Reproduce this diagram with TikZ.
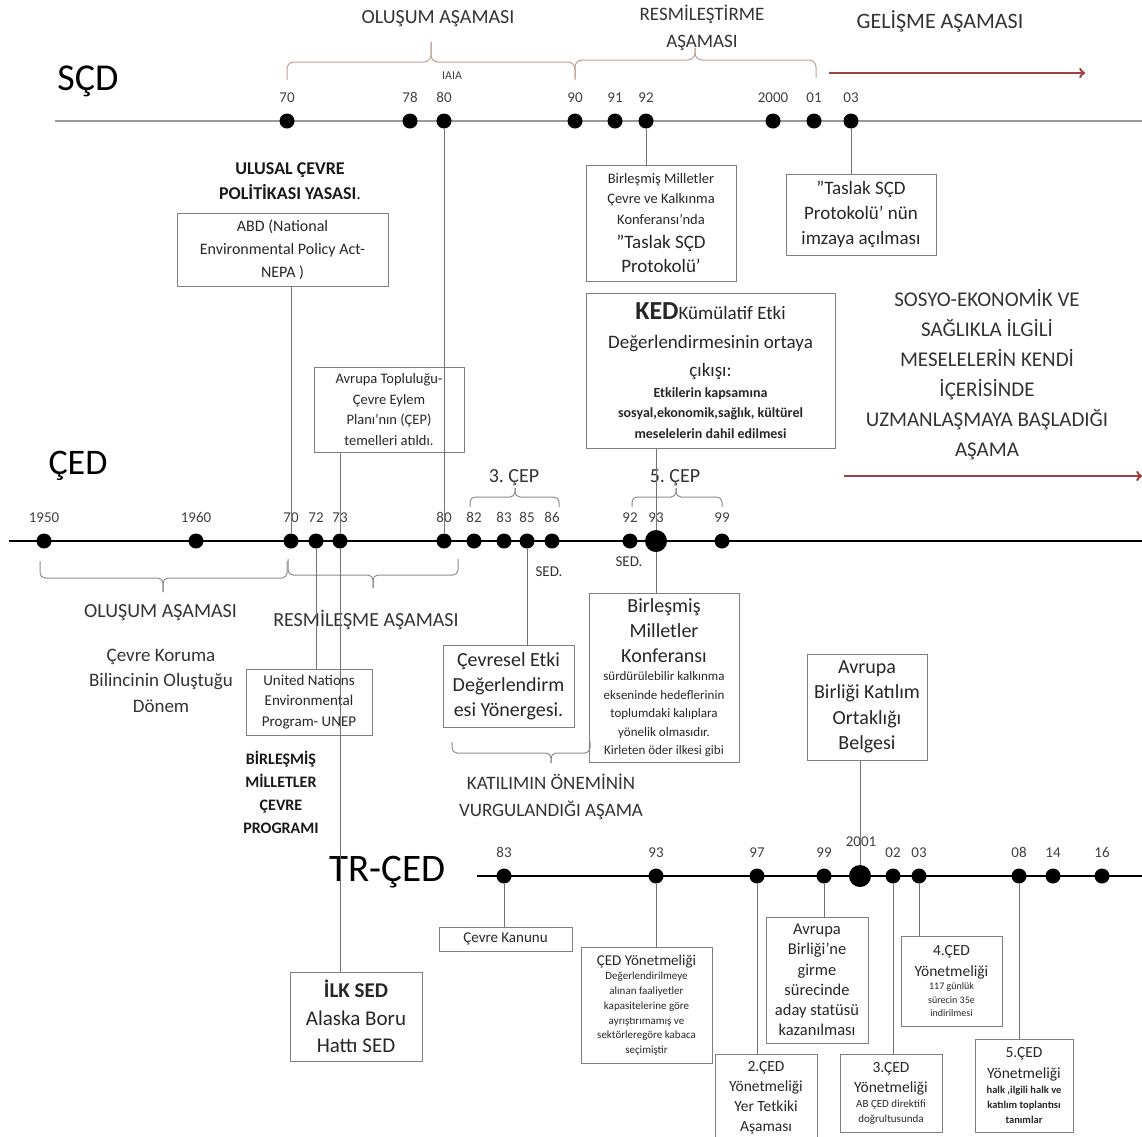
\documentclass[tikz,border=0pt]{standalone}
\usepackage{fontspec}
\setmainfont{Carlito}
\frenchspacing

\definecolor{arrowred}{RGB}{155,65,65}
\definecolor{bracetan}{RGB}{190,160,150}
\newcommand{\fs}[2]{\fontsize{#1}{#2}\selectfont}

\begin{document}
\begin{tikzpicture}[x=1pt,y=-1pt,label distance=7pt,
  dot/.style={circle,fill=black,inner sep=0pt,minimum size=15pt},
  bigdot/.style={circle,fill=black,inner sep=0pt,minimum size=22pt},
  yr/.style={font=\fs{15}{18},text=black!75},
  box/.style={draw=black!50,line width=1pt,align=flush center,inner sep=0pt,text=black!85},
  conn/.style={draw=black!55,line width=0.9pt},
  phase/.style={align=center,text=black!80},
  upbrace/.style={draw=bracetan,line width=1pt,rounded corners=7pt},
  gbrace/.style={draw=black!45,line width=1pt,rounded corners=5pt},
  timeline/.style={line width=2.8pt}]
  \useasboundingbox (0,0) rectangle (1142,1136);

  % SCD line
  \node[font=\fs{38}{40}] (scd) at (88,81) {SÇD};
  \draw[black!40,line width=1.5pt] (55,121) -- (1142,121);
  \foreach \x/\t in {287/70,410/78,444/80,575/90,615/91,646/92,773/2000,814/01,851/03}
    \node[dot,label={[yr]above:\t}] (s\t) at (\x,121) {};
  \node[font=\fs{12}{14},text=black!75] (iaia) at (452,76) {IAIA};

  \node[phase,font=\fs{20}{24}] (olusum1) at (438,19) {OLUŞUM AŞAMASI};
  \node[phase,font=\fs{19}{27}] (resmi1) at (702,28) {RESMİLEŞTİRME\\AŞAMASI};
  \node[phase,font=\fs{22}{26}] (gelisme) at (940,21) {GELİŞME AŞAMASI};
  \draw[upbrace] (287,80) -- (287,62) -- (431,62) -- (431,42);
  \draw[upbrace] (575,80) -- (575,62) -- (431,62) -- (431,42);
  \draw[upbrace] (575,78) -- (575,60) -- (695,60) -- (695,48);
  \draw[upbrace] (816,78) -- (816,60) -- (695,60) -- (695,48);
  \draw[->,arrowred,line width=2.5pt] (829,73) -- (1085,73);

  \node[phase,font=\fs{18}{25}\bfseries,text=black!90] (ulusal) at (290,181) {ULUSAL ÇEVRE\\POLİTİKASI YASASI{\mdseries .}};
  \node[box,text width=211pt,minimum height=73pt,font=\fs{16}{23}] (nepa) at (282.5,249.5)
    {ABD (National\\Environmental Policy Act-\\NEPA )};
  \node[box,text width=150pt,minimum height=116pt] (bm92) at (661,223)
    {\fs{14.5}{20.5}Birleşmiş Milletler\\Çevre ve Kalkınma\\Konferansı'nda\par
     \fs{19}{24}''Taslak SÇD\\Protokolü'\par};
  \node[box,text width=150pt,minimum height=81pt,font=\fs{19}{25}] (tsp) at (861,214.5)
    {''Taslak SÇD\\Protokolü' nün\\imzaya açılması};

  \node[box,text width=249pt,minimum height=155pt] (ked) at (710.5,370.5)
    {\fs{19}{28.5}{\fs{26}{28}\bfseries KED}Kümülatif Etki\\Değerlendirmesinin ortaya\\çıkışı:\par
     \fs{14}{20.5}\bfseries Etkilerin kapsamına\\sosyal,ekonomik,sağlık, kültürel\\meselelerin dahil edilmesi\par};
  \node[phase,font=\fs{21}{30}] (sosyo) at (987,375)
    {SOSYO-EKONOMİK VE\\SAĞLIKLA İLGİLİ\\MESELELERİN KENDİ\\İÇERİSİNDE\\UZMANLAŞMAYA BAŞLADIĞI\\AŞAMA};
  \draw[->,arrowred,line width=2.5pt] (844,476) -- (1142,476);

  % CED line
  \node[font=\fs{36}{40}] (ced) at (78,466) {ÇED};
  \draw[timeline] (9,541) -- (1142,541);
  \foreach \x/\t in {44/1950,196/1960,291/70,316/72,340/73,444/80,474/82,504/83,527/85,552/86,630/92,722/99}
    \node[dot,label={[yr]above:\t}] (c\t) at (\x,541) {};
  \node[bigdot] (c93) at (656,541) {};
  \node[yr] (y93) at (656,518) {93};

  \node[phase,font=\fs{20}{24}] (cep3) at (514,478) {3. ÇEP};
  \node[phase,font=\fs{20}{24}] (cep5) at (675,478) {5. ÇEP};
  \draw[gbrace] (470,507) -- (470,497) -- (515,497) -- (515,488);
  \draw[gbrace] (559,507) -- (559,497) -- (515,497) -- (515,488);
  \draw[gbrace] (632,507) -- (632,497) -- (676,497) -- (676,488);
  \draw[gbrace] (722,507) -- (722,497) -- (676,497) -- (676,488);
  \node[font=\fs{15}{18},text=black!80] (sed86) at (549,572) {SED.};
  \node[font=\fs{15}{18},text=black!80] (sed92) at (629,562) {SED.};

  \draw[gbrace] (40,561) -- (40,578) -- (163,578) -- (163,592);
  \draw[gbrace] (287,561) -- (287,578) -- (163,578) -- (163,592);
  \draw[gbrace] (288,559) -- (288,575) -- (373,575) -- (373,588);
  \draw[gbrace] (458,559) -- (458,575) -- (373,575) -- (373,588);
  \draw[gbrace] (452,742) -- (452,753) -- (551,753) -- (551,763);
  \draw[gbrace] (590,742) -- (590,753) -- (551,753) -- (551,763);
  \node[phase,font=\fs{20}{24}] (olusum2) at (160.5,613) {OLUŞUM AŞAMASI};
  \node[phase,font=\fs{20}{24}] (resmi2) at (366,620) {RESMİLEŞME AŞAMASI};
  \node[phase,font=\fs{19}{25.5}] (bilinc) at (161,680.5) {Çevre Koruma\\Bilincinin Oluştuğu\\Dönem};

  \node[box,text width=150pt,minimum height=85pt,font=\fs{14.5}{20.5}] (avt) at (389,409.5)
    {Avrupa Topluluğu-\\Çevre Eylem\\Planı'nın (ÇEP)\\temelleri atıldı.};
  \node[box,text width=126pt,minimum height=66pt,font=\fs{15}{20.5}] (unep) at (309,702)
    {United Nations\\Environmental\\Program- UNEP};
  \node[phase,font=\fs{16}{23}\bfseries,text=black!90] (bmcp) at (281,792.5) {BİRLEŞMİŞ\\MİLLETLER\\ÇEVRE\\PROGRAMI};
  \node[box,text width=131pt,minimum height=82pt,font=\fs{20}{25}] (cev) at (508.5,686)
    {Çevresel Etki\\Değerlendirm\\esi Yönergesi.};
  \node[box,text width=150pt,minimum height=169pt] (bmk) at (664,677.5)
    {\fs{20}{25}Birleşmiş\\Milletler\\Konferansı\par
     \fs{13}{18.5}sürdürülebilir kalkınma\\ekseninde hedeflerinin\\toplumdaki kalıplara\\yönelik olmasıdır.\\Kirleten öder ilkesi gibi\par};
  \node[phase,font=\fs{19}{27}] (katilim) at (551,796.5) {KATILIMIN ÖNEMİNİN\\VURGULANDIĞI AŞAMA};
  \node[box,text width=120pt,minimum height=106pt,font=\fs{20}{25.5}] (abk) at (867,707)
    {Avrupa\\Birliği Katılım\\Ortaklığı\\Belgesi};

  % TR-CED line
  \node[font=\fs{39}{42}] (trced) at (387.5,872.5) {TR-ÇED};
  \draw[timeline] (477,876) -- (1142,876);
  \foreach \x/\t in {504/83,656/93,757/97,824/99,893/02,919/03,1019/08,1053/14,1102/16}
    \node[dot,label={[yr]above:\t}] (t\t) at (\x,876) {};
  \node[bigdot] (t2001) at (860,876) {};
  \node[yr] (y2001) at (861,842) {2001};

  \node[box,text width=133pt,minimum height=24pt,font=\fs{15}{18}] (kanun) at (505.5,939) {Çevre Kanunu};
  \node[box,text width=131pt,minimum height=116pt] (cy) at (646.5,1005)
    {\fs{15}{18}ÇED Yönetmeliği\par
     \fs{11}{14.7}Değerlendirilmeye\\alınan faaliyetler\\kapasitelerine göre\\ayrıştırımamış ve\\sektörleregöre kabaca\\seçimiştir\par};
  \node[box,text width=132pt,minimum height=89pt,font=\fs{21}{27.5}] (ilk) at (356,1016.5)
    {\textbf{İLK SED}\\Alaska Boru\\Hattı SED};
  \node[box,text width=102pt,minimum height=87pt,anchor=north,font=\fs{15.5}{20}] (yon2) at (766,1054)
    {2.ÇED\\Yönetmeliği\\Yer Tetkiki\\Aşaması};
  \node[box,text width=102pt,minimum height=126pt,font=\fs{16.5}{20.2}] (abn) at (817,980)
    {Avrupa\\Birliği'ne\\girme\\sürecinde\\aday statüsü\\kazanılması};
  \node[box,text width=102pt,minimum height=78pt] (yon3) at (891,1093)
    {\fs{15.5}{20}3.ÇED\\Yönetmeliği\par \fs{11}{15}AB ÇED direktifi\\doğrultusunda\par};
  \node[box,text width=101pt,minimum height=90pt] (yon4) at (951.5,981)
    {\fs{15.5}{21}4.ÇED\\Yönetmeliği\par \fs{10}{13.5}117 günlük\\sürecin 35e\\indirilmesi\par};
  \node[box,text width=98pt,minimum height=93pt] (yon5) at (1024,1085.5)
    {\fs{15.5}{21}5.ÇED\\Yönetmeliği\par \fs{10.5}{15}\bfseries halk ,ilgili halk ve\\katılım toplantısı\\tanımlar\par};

  % connectors
  \draw[conn] (c70) -- (c70 |- nepa.south);
  \draw[conn] (s80) -- (c80);
  \draw[conn] (s92) -- (s92 |- bm92.north);
  \draw[conn] (s03) -- (s03 |- tsp.north);
  \draw[conn] (c93) -- (c93 |- ked.south);
  \draw[conn] (c93) -- (c93 |- bmk.north);
  \draw[conn] (c72) -- (c72 |- unep.north);
  \draw[conn] (c73) -- (c73 |- avt.south);
  \draw[conn] (c73) -- (c73 |- ilk.north);
  \draw[conn] (c85) -- (c85 |- cev.north);
  \draw[conn] (t2001) -- (t2001 |- abk.south);
  \draw[conn] (t83) -- (t83 |- kanun.north);
  \draw[conn] (t93) -- (t93 |- cy.north);
  \draw[conn] (t97) -- (t97 |- yon2.north);
  \draw[conn] (t99) -- (t99 |- abn.north);
  \draw[conn] (t02) -- (t02 |- yon3.north);
  \draw[conn] (t03) -- (t03 |- yon4.north);
  \draw[conn] (t08) -- (t08 |- yon5.north);
\end{tikzpicture}
\end{document}
